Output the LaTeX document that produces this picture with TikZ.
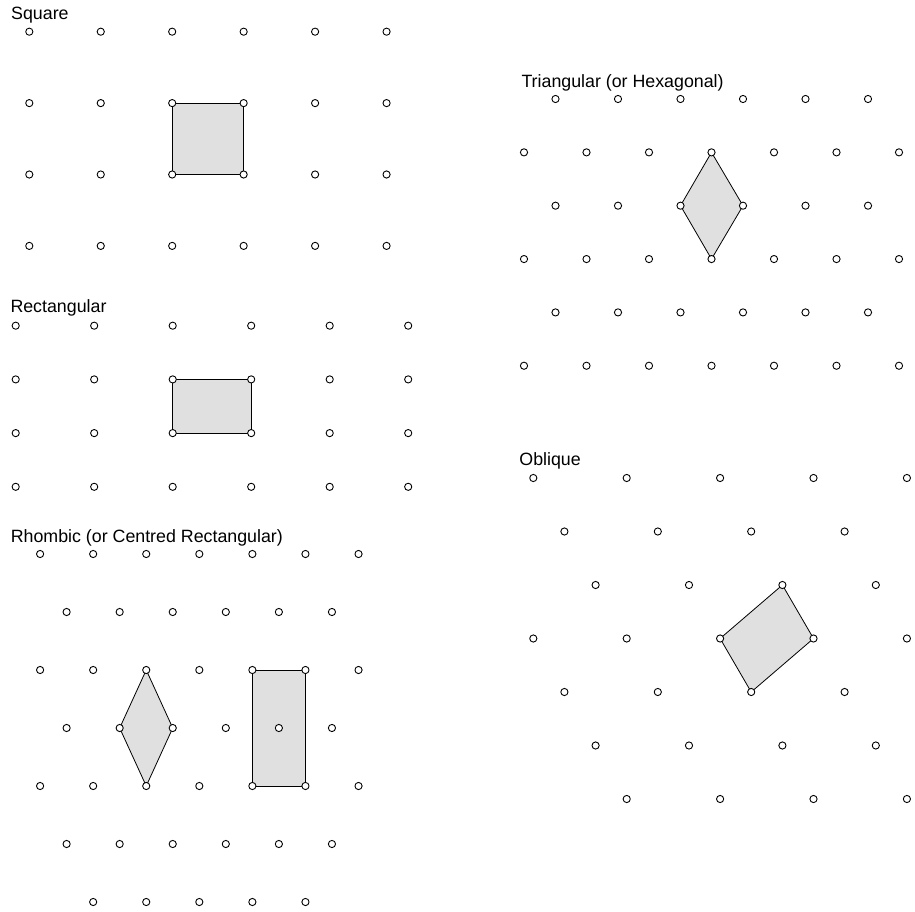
\documentclass[tikz,border=0pt]{standalone}
\usepackage{fontspec}
\setmainfont{Liberation Sans}
\usetikzlibrary{backgrounds}

\begin{document}
\begin{tikzpicture}[
    x=1pt, y=-1pt,
    font=\fontsize{17.8}{21}\selectfont,
    line join=round,
    site/.style={circle, draw=black, fill=white, line width=0.9pt, minimum size=7.2pt, inner sep=0pt},
    cell/.style={draw=black, fill=cellfill, line width=0.8pt},
    lattitle/.style={anchor=base west, inner sep=0pt}
]

% ========= Colors =========
\definecolor{cellfill}{RGB}{224,224,224}

\useasboundingbox (0,0) rectangle (915,912);

% ========= Square =========
\node[lattitle] (sq-title) at (11,19.4) {Square};
\foreach \j in {0,...,3}
{
    \foreach \i in {0,...,5}
        \node[site] (sq-\i-\j) at (29.3+71.45*\i, 31.7+71.4*\j) {};
}
\begin{scope}[on background layer]
    \filldraw[cell] (sq-2-1.center) -- (sq-3-1.center) -- (sq-3-2.center) -- (sq-2-2.center) -- cycle;
\end{scope}

% ========= Rectangular =========
\node[lattitle] (rect-title) at (10.3,312.7) {Rectangular};
\foreach \j in {0,...,3}
{
    \foreach \i in {0,...,5}
        \node[site] (rect-\i-\j) at (15.7+78.5*\i, 325.7+53.7*\j) {};
}
\begin{scope}[on background layer]
    \filldraw[cell] (rect-2-1.center) -- (rect-3-1.center) -- (rect-3-2.center) -- (rect-2-2.center) -- cycle;
\end{scope}

% ========= Rhombic (row / first x / last index) =========
\node[lattitle] (rh-title) at (10.6,542.7) {Rhombic (or Centred Rectangular)};
\foreach \j/\xs/\first/\last in {0/40.1/0/6, 1/66.6/0/5, 2/40.1/0/6, 3/66.6/0/5, 4/40.1/0/6, 5/66.6/0/5, 6/40.1/1/5}
{
    \foreach \i in {\first,...,\last}
        \node[site] (rh-\i-\j) at (\xs+53.07*\i, 554+58*\j) {};
}
\begin{scope}[on background layer]
    \filldraw[cell] (rh-2-2.center) -- (rh-2-3.center) -- (rh-2-4.center) -- (rh-1-3.center) -- cycle;
    \filldraw[cell] (rh-4-2.center) -- (rh-5-2.center) -- (rh-5-4.center) -- (rh-4-4.center) -- cycle;
\end{scope}

% ========= Triangular =========
\node[lattitle] (tri-title) at (521.3,87.7) {Triangular (or Hexagonal)};
\foreach \j/\xs/\last in {0/555.5/5, 1/524/6, 2/555.5/5, 3/524/6, 4/555.5/5, 5/524/6}
{
    \foreach \i in {0,...,\last}
        \node[site] (tri-\i-\j) at (\xs+62.5*\i, 99+53.35*\j) {};
}
\begin{scope}[on background layer]
    \filldraw[cell] (tri-3-1.center) -- (tri-3-2.center) -- (tri-3-3.center) -- (tri-2-2.center) -- cycle;
\end{scope}

% ========= Oblique =========
\node[lattitle] (obl-title) at (519.2,465) {Oblique};
\foreach \j/\xs/\last in {0/533.3/4, 1/564.4/3, 2/595.6/3, 3/533.3/4, 4/564.4/3, 5/595.6/3, 6/626.7/3}
{
    \foreach \i in {0,...,\last}
        \node[site] (obl-\i-\j) at (\xs+93.4*\i, 478+53.5*\j) {};
}
\begin{scope}[on background layer]
    \filldraw[cell] (obl-2-3.center) -- (obl-2-2.center) -- (obl-3-3.center) -- (obl-2-4.center) -- cycle;
\end{scope}

\end{tikzpicture}
\end{document}
